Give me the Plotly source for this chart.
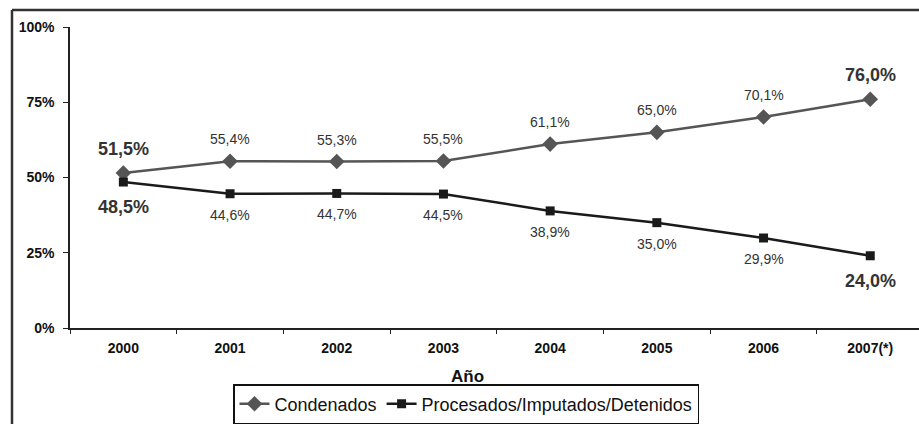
import plotly.graph_objects as go

# Data
years = ["2000", "2001", "2002", "2003", "2004", "2005", "2006", "2007(*)"]
condenados = [51.5, 55.4, 55.3, 55.5, 61.1, 65.0, 70.1, 76.0]
procesados = [48.5, 44.6, 44.7, 44.5, 38.9, 35.0, 29.9, 24.0]
y_ticks = [0, 25, 50, 75, 100]
y_tick_labels = ["0%", "25%", "50%", "75%", "100%"]

FONT = "Liberation Sans, Arial, sans-serif"
W, H = 919, 424
M_L, M_R, M_T, M_B = 70, 0, 27, 96
plot_w = W - M_L - M_R
plot_h = H - M_T - M_B
step_px = 106.7  # pixel distance between consecutive years


def px_x(p):
    return (p - M_L) / plot_w


def px_y(p):
    return (H - M_B - p) / plot_h


def fmt(v):
    return f"{v:.1f}".replace(".", ",") + "%"


fig = go.Figure()
fig.add_trace(go.Scatter(
    x=years, y=condenados, name="Condenados", mode="lines+markers",
    line=dict(color="#555555", width=2.5),
    marker=dict(symbol="diamond", size=12, color="#555555"),
))
fig.add_trace(go.Scatter(
    x=years, y=procesados, name="Procesados/Imputados/Detenidos", mode="lines+markers",
    line=dict(color="#1a1a1a", width=2.5),
    marker=dict(symbol="square", size=9, color="#1a1a1a"),
))

# Value labels: first and last year emphasised (x given as category index)
annotations = []
last = len(years) - 1
for i, (c, p) in enumerate(zip(condenados, procesados)):
    big = i in (0, last)
    f = dict(family=FONT, size=18 if big else 14, color="#333333")
    if big:
        f["weight"] = "bold"
    annotations.append(dict(x=i, y=c, text=fmt(c), showarrow=False, font=f,
                            yshift=24 if big else 22, xref="x", yref="y"))
    annotations.append(dict(x=i, y=p, text=fmt(p), showarrow=False, font=f,
                            yshift=-25 if big else -21, xref="x", yref="y"))

# Axis title
annotations.append(dict(x=px_x(467), y=px_y(376), xref="paper", yref="paper",
                        xanchor="center", yanchor="middle",
                        text="Año", showarrow=False,
                        font=dict(family=FONT, size=17, color="#111111", weight="bold")))

fig.update_layout(
    width=W, height=H,
    margin=dict(l=M_L, r=M_R, t=M_T, b=M_B),
    paper_bgcolor="white", plot_bgcolor="white",
    font=dict(family=FONT, color="#111111"),
    showlegend=True,
    legend=dict(
        orientation="h", x=px_x(466), xanchor="center", y=px_y(404), yanchor="middle",
        bordercolor="#111111", borderwidth=1.5, bgcolor="white",
        font=dict(family=FONT, size=18, color="#111111"),
        itemwidth=30,
    ),
    annotations=annotations,
    shapes=[
        # outer frame (left and top edges)
        dict(type="line", xref="paper", yref="paper",
             x0=px_x(12), x1=px_x(12), y0=px_y(10), y1=px_y(430),
             line=dict(color="#333333", width=2.5)),
        dict(type="line", xref="paper", yref="paper",
             x0=px_x(12), x1=px_x(930), y0=px_y(10), y1=px_y(10),
             line=dict(color="#333333", width=2.5)),
    ],
)

fig.update_xaxes(
    type="category", range=[-0.5, -0.5 + plot_w / step_px],
    showline=True, linecolor="#222222", linewidth=1.5,
    ticks="outside", tickson="boundaries", ticklen=4, tickcolor="#222222",
    tickfont=dict(family=FONT, size=14, color="#111111", weight="bold"),
    ticklabelstandoff=6,
    showgrid=False, zeroline=False,
)
fig.update_yaxes(
    range=[0, 100], tickvals=y_ticks, ticktext=y_tick_labels,
    showline=True, linecolor="#222222", linewidth=1.5,
    ticks="outside", ticklen=5, tickcolor="#222222",
    tickfont=dict(family=FONT, size=14, color="#111111", weight="bold"),
    ticklabelstandoff=6,
    showgrid=False, zeroline=False,
)

fig.write_html("out.html")
